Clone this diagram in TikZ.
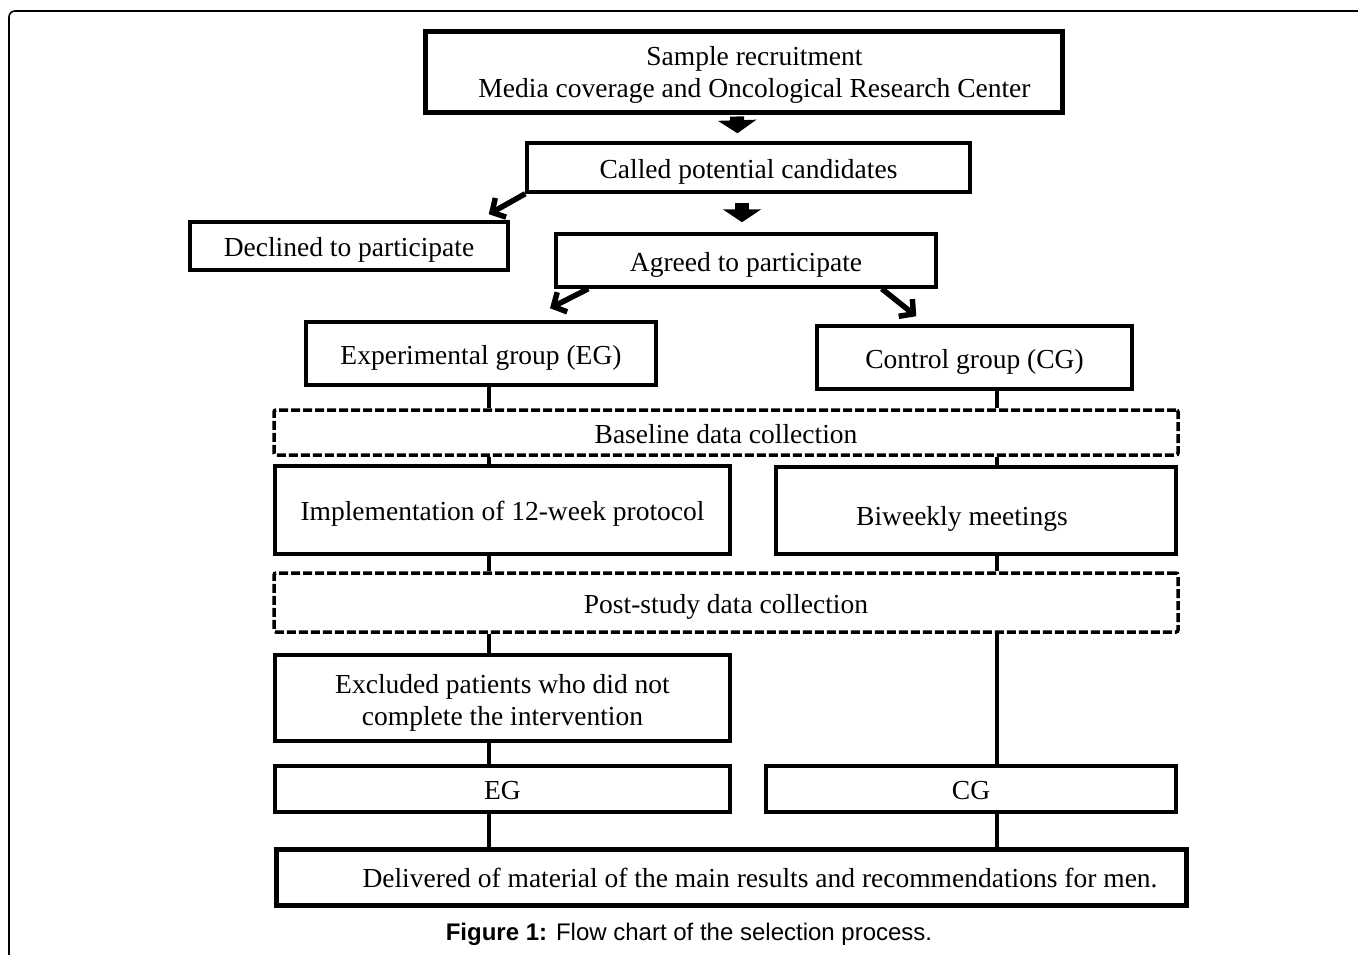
\documentclass[tikz,border=0pt]{standalone}
\usepackage{fontspec}
\setmainfont{Liberation Serif}
\newfontfamily\capfont{Liberation Sans}
\usetikzlibrary{arrows.meta}

\begin{document}
\begin{tikzpicture}[
    x=1pt, y=-1pt,
    font=\fontsize{27.5}{32}\selectfont,
    box/.style={rectangle, draw=black, line width=3.5pt, inner sep=0pt, align=center},
    oneline/.style={text height=26pt, text depth=4.5pt},
    dashbox/.style={box, oneline, dash pattern=on 9pt off 3pt, rounded corners=2pt},
    link/.style={draw=black, line width=3.2pt},
    blockarr/.style={line width=14pt, -{Triangle[width=38pt,length=13pt]}},
    diagarr/.style={line width=5.5pt, -{Straight Barb[length=10pt,width=22pt]}}
]
\useasboundingbox (0,0) rectangle (1358,955);

% Frame
\draw[line width=1.6pt, rounded corners=6pt] (9,955) -- (9,11) -- (1358,11);

% Top part
\node[box, line width=5pt, minimum width=637pt, minimum height=81pt] (recruit) at (743.5,72.5)
    {\rule{0pt}{23pt}\hspace*{22pt}Sample recruitment\\ \hspace*{22pt}Media coverage and Oncological Research Center};
\node[box, oneline, minimum width=443pt, minimum height=49pt] (called) at (748.5,167.5) {Called potential candidates};
\node[box, oneline, minimum width=318pt, minimum height=48pt] (declined) at (349,246) {Declined to participate};
\node[box, oneline, minimum width=380pt, minimum height=53pt] (agreed) at (746,260.5) {Agreed to participate};

% Groups
\node[box, oneline, minimum width=350pt, minimum height=63pt] (egroup) at (481,353.5) {Experimental group (EG)};
\node[box, oneline, minimum width=315pt, minimum height=63pt] (cgroup) at (974.5,357.5) {Control group (CG)};

% Data collection and intervention
\node[dashbox, minimum width=904pt, minimum height=45pt] (base) at (726,432.5) {Baseline data collection};
\node[box, oneline, minimum width=455pt, minimum height=88pt] (impl) at (502.5,510) {Implementation of 12-week protocol};
\node[box, text height=32pt, text depth=2pt, minimum width=400pt, minimum height=87pt] (biweek) at (976,510.5)
    {Biweekly meetings\hspace*{28pt}};
\node[dashbox, minimum width=904pt, minimum height=59pt] (post) at (726,602.5) {Post-study data collection};

% Final groups
\node[box, minimum width=455pt, minimum height=86pt] (excl) at (502.5,698)
    {\rule{0pt}{29pt}Excluded patients who did not\\complete the intervention};
\node[box, oneline, minimum width=455pt, minimum height=46pt] (egfin) at (502.5,789) {EG};
\node[box, oneline, minimum width=410pt, minimum height=46pt] (cgfin) at (971,789) {CG};
\node[box, oneline, line width=5pt, minimum width=910pt, minimum height=56pt] (deliv) at (731,877)
    {\hspace*{58pt}Delivered of material of the main results and recommendations for men.};

% Caption
\node[font=\capfont\fontsize{24}{28}\selectfont] (caption) at (689,934) {\textbf{Figure 1:} Flow chart of the selection process.};

% Block arrows
\draw[blockarr] ([xshift=-6.5pt,yshift=-1pt]recruit.south) -- ([xshift=-11pt,yshift=8pt]called.north);
\draw[blockarr] ([xshift=-6.5pt,yshift=-9pt]called.south) -- ([xshift=-4pt,yshift=10pt]agreed.north);

% Diagonal arrows
\draw[diagarr] (called.south west) -- ([xshift=-21pt,yshift=6pt]declined.north east);
\draw[diagarr] ([xshift=34pt]agreed.south west) -- ([xshift=69pt,yshift=12pt]egroup.north);
\draw[diagarr] ([xshift=-56pt]agreed.south east) -- ([xshift=101pt,yshift=8pt]cgroup.north west);

% Vertical links
\coordinate (lcol) at (489,0);
\coordinate (rcol) at (997,0);
\draw[link] (egroup.south -| lcol) -- (base.north -| lcol);
\draw[link] (cgroup.south -| rcol) -- (base.north -| rcol);
\draw[link] (base.south -| lcol) -- (impl.north -| lcol);
\draw[link] (base.south -| rcol) -- (biweek.north -| rcol);
\draw[link] (impl.south -| lcol) -- (post.north -| lcol);
\draw[link] (biweek.south -| rcol) -- (post.north -| rcol);
\draw[link] (post.south -| lcol) -- (excl.north -| lcol);
\draw[link] (post.south -| rcol) -- (cgfin.north -| rcol);
\draw[link] (excl.south -| lcol) -- (egfin.north -| lcol);
\draw[link] (egfin.south -| lcol) -- (deliv.north -| lcol);
\draw[link] (cgfin.south -| rcol) -- (deliv.north -| rcol);

\end{tikzpicture}
\end{document}
